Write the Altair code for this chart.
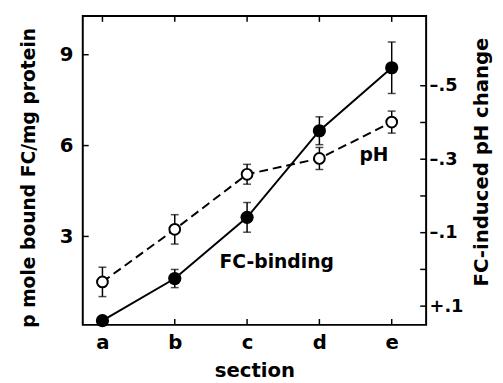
import json
import altair as alt
import pandas as pd

# ---- data ----
sections = ["a", "b", "c", "d", "e"]
section_pos = [0, 1, 2, 3, 4]
fc_binding = [0.22, 1.61, 3.63, 6.49, 8.57]
fc_error = [0.0, 0.3, 0.49, 0.46, 0.85]
ph_change = [0.034, -0.109, -0.259, -0.302, -0.401]
ph_error = [0.04, 0.04, 0.027, 0.03, 0.03]

left_tick_values = [3, 6, 9]
right_tick_values = [-0.5, -0.4, -0.3, -0.2, -0.1, 0.0, 0.1]
right_label_values = [-0.5, -0.3, -0.1, 0.1]

fc_label = ["FC-binding"]
fc_label_x = [1.62]
fc_label_y = [1.97]
ph_label = ["pH"]
ph_label_x = [3.755]
ph_label_y = [-0.296]

W, H = 349, 314
FONT = "DejaVu Sans"
BOLD = "bold"

df = pd.DataFrame({
    "pos": section_pos,
    "section": sections,
    "fc": fc_binding,
    "fc_lo": [v - e for v, e in zip(fc_binding, fc_error)],
    "fc_hi": [v + e for v, e in zip(fc_binding, fc_error)],
    "ph": ph_change,
    "ph_lo": [v - e for v, e in zip(ph_change, ph_error)],
    "ph_hi": [v + e for v, e in zip(ph_change, ph_error)],
})

xs = alt.Scale(domain=[-0.272, 4.476], nice=False, zero=False)
ys_left = alt.Scale(domain=[0.08, 10.28], nice=False, zero=False)
ys_right = alt.Scale(domain=[-0.69, 0.151], nice=False, zero=False, reverse=True)

x_axis = alt.Axis(
    values=section_pos,
    labelExpr=json.dumps(sections) + "[datum.value]",
    domain=False, ticks=False, tickSize=0, grid=False,
    labelPadding=8, labelFontSize=20, labelFont=FONT, labelFontWeight=BOLD,
    title="section", titleFontSize=20, titleFont=FONT, titleFontWeight=BOLD,
    titleY=52, titleBaseline="alphabetic",
)
left_axis = alt.Axis(
    orient="left", values=left_tick_values,
    domain=False, ticks=False, tickSize=0, grid=False,
    labelPadding=10, labelFontSize=20, labelFont=FONT, labelFontWeight=BOLD,
    title="p mole bound FC/mg protein", titleFontSize=19, titleFont=FONT, titleFontWeight=BOLD,
    titleAngle=270, titleX=-49, titleY=164, titleBaseline="alphabetic",
    titleAlign="center",
)
right_axis = alt.Axis(
    orient="right", values=right_label_values,
    labelExpr="datum.value > 0 ? '+' + replace(format(datum.value, '.1f'), '0.', '.') : '\u2013' + replace(format(-datum.value, '.1f'), '0.', '.')",
    domain=False, ticks=False, tickSize=0, grid=False,
    labelPadding=3, labelFontSize=18, labelFont=FONT, labelFontWeight=BOLD,
    title="FC-induced pH change", titleFontSize=20, titleFont=FONT, titleFontWeight=BOLD,
    titleAngle=270, titleX=62, titleY=148, titleBaseline="alphabetic",
    titleAlign="center",
)

base = alt.Chart(df)


def X(field):
    return alt.X(field, scale=xs, axis=x_axis)


def YL(field):
    return alt.Y(field, scale=ys_left, axis=left_axis)


def YR(field):
    return alt.Y(field, scale=ys_right, axis=right_axis)


# ---- FC binding (left scale) ----
fc_line = base.mark_line(color="black", strokeWidth=2).encode(x=X("pos:Q"), y=YL("fc:Q"))
fc_bar = base.mark_rule(color="black", strokeWidth=1.5).encode(x=X("pos:Q"), y=YL("fc_lo:Q"), y2="fc_hi:Q")
fc_cap_lo = base.mark_tick(color="black", orient="horizontal", size=8, thickness=1.5).encode(
    x=X("pos:Q"), y=YL("fc_lo:Q")
)
fc_cap_hi = base.mark_tick(color="black", orient="horizontal", size=8, thickness=1.5).encode(
    x=X("pos:Q"), y=YL("fc_hi:Q")
)
fc_pts = base.mark_point(shape="circle", filled=True, color="black", size=180, opacity=1).encode(
    x=X("pos:Q"), y=YL("fc:Q")
)
fc_text = alt.Chart(pd.DataFrame({"t": fc_label, "pos": fc_label_x, "fc": fc_label_y})).mark_text(
    align="left", baseline="alphabetic", fontSize=19, font=FONT, fontWeight=BOLD, color="black"
).encode(x=X("pos:Q"), y=YL("fc:Q"), text="t:N")

left_ticks = alt.Chart(pd.DataFrame({"fc": left_tick_values})).mark_rule(color="black", strokeWidth=1.5).encode(
    y=YL("fc:Q"), x=alt.value(0), x2=alt.value(6)
)
top_ticks = alt.Chart(pd.DataFrame({"pos": section_pos})).mark_rule(color="black", strokeWidth=1.5).encode(
    x=X("pos:Q"), y=alt.value(0), y2=alt.value(6)
)
bottom_ticks = alt.Chart(pd.DataFrame({"pos": section_pos})).mark_rule(color="black", strokeWidth=1.5).encode(
    x=X("pos:Q"), y=alt.value(H - 6), y2=alt.value(H)
)

left_layer = alt.layer(fc_line, left_ticks, top_ticks, bottom_ticks, fc_bar, fc_cap_lo, fc_cap_hi, fc_pts, fc_text)

# ---- pH change (right scale) ----
ph_line = base.mark_line(color="black", strokeWidth=2, strokeDash=[9, 5]).encode(x=X("pos:Q"), y=YR("ph:Q"))
ph_bar = base.mark_rule(color="black", strokeWidth=1.5).encode(x=X("pos:Q"), y=YR("ph_lo:Q"), y2="ph_hi:Q")
ph_cap_lo = base.mark_tick(color="black", orient="horizontal", size=8, thickness=1.5).encode(
    x=X("pos:Q"), y=YR("ph_lo:Q")
)
ph_cap_hi = base.mark_tick(color="black", orient="horizontal", size=8, thickness=1.5).encode(
    x=X("pos:Q"), y=YR("ph_hi:Q")
)
ph_pts = base.mark_point(shape="circle", fill="white", stroke="black", strokeWidth=2, size=120, opacity=1).encode(
    x=X("pos:Q"), y=YR("ph:Q")
)
ph_text = alt.Chart(pd.DataFrame({"t": ph_label, "pos": ph_label_x, "ph": ph_label_y})).mark_text(
    align="center", baseline="alphabetic", fontSize=19, font=FONT, fontWeight=BOLD, color="black"
).encode(x=X("pos:Q"), y=YR("ph:Q"), text="t:N")
right_ticks = alt.Chart(pd.DataFrame({"ph": right_tick_values})).mark_rule(color="black", strokeWidth=1.5).encode(
    y=YR("ph:Q"), x=alt.value(W - 6), x2=alt.value(W)
)

right_layer = alt.layer(ph_line, right_ticks, ph_bar, ph_cap_lo, ph_cap_hi, ph_pts, ph_text)

chart = (
    alt.layer(left_layer, right_layer)
    .resolve_scale(y="independent")
    .properties(
        width=W, height=H,
        background="white",
        autosize=alt.AutoSizeParams(type="none"),
        padding={"left": 76, "top": 5, "right": 70, "bottom": 56},
    )
    .configure_view(stroke="black", strokeWidth=2)
    .configure_axis(labelColor="black", titleColor="black")
)

chart.save("out.html", embed_options={"renderer": "svg", "actions": False})
